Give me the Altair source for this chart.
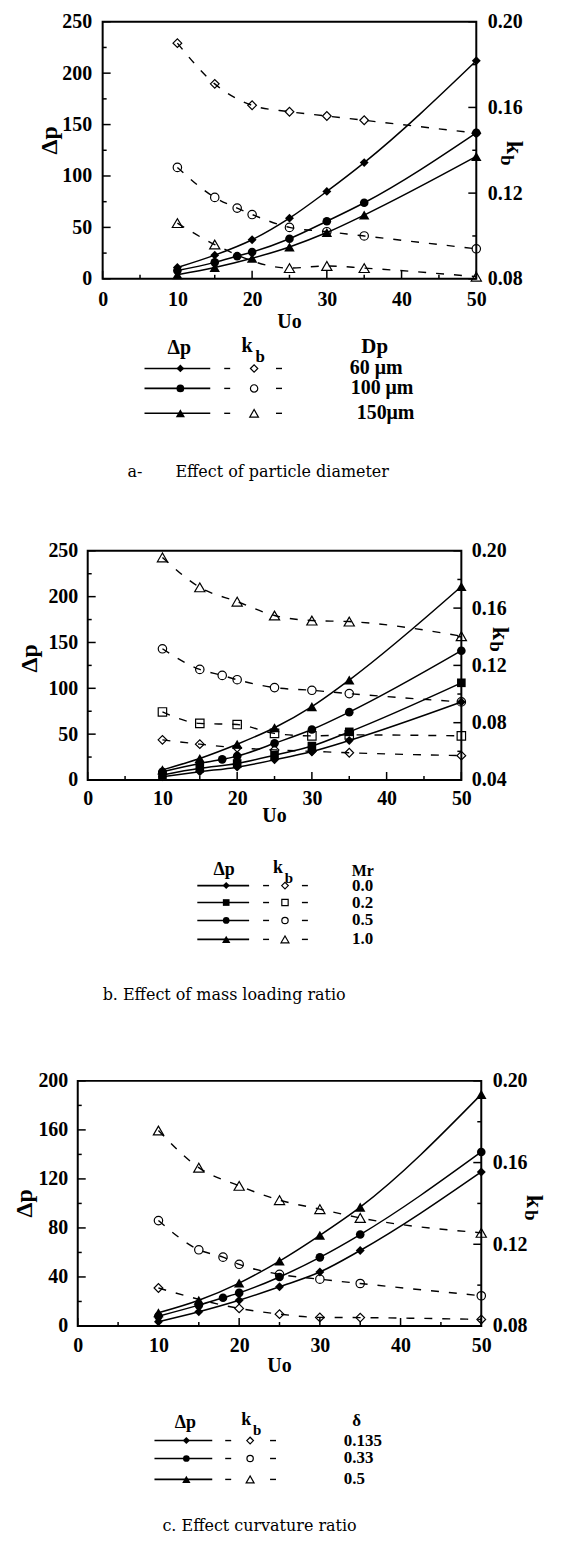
import altair as alt
import pandas as pd

# ---------------- data ----------------
U = [10, 15, 20, 25, 30, 35, 50]
U18 = [10, 15, 18, 20, 25, 30, 35, 50]

# (a) effect of particle diameter
A_NAMES = ["60 μm", "100 μm", "150μm"]
A_DP_U = [U, U18, U]
A_DP = [
    [11, 23, 38, 59, 85, 113, 212],
    [8, 16, 22, 26, 39, 56, 74, 142],
    [4, 11, 20, 31, 45, 62, 119],
]
A_KB_U = [U, U18, [10, 15, 25, 30, 35, 50]]
A_KB = [
    [0.190, 0.171, 0.161, 0.158, 0.156, 0.154, 0.148],
    [0.132, 0.118, 0.113, 0.110, 0.104, 0.102, 0.100, 0.094],
    [0.106, 0.096, 0.085, 0.086, 0.085, 0.081],
]

# (b) effect of mass loading ratio
B_NAMES = ["0.0", "0.2", "0.5", "1.0"]
B_DP_U = [U, U, U18, U]
B_DP = [
    [3.6, 9, 14, 22, 31, 43, 85],
    [5.5, 12.7, 18, 27, 37, 52.5, 106],
    [9, 18, 22.5, 26, 40, 55, 74, 141],
    [11, 23.5, 39, 57, 80, 109, 211],
]
B_KB_U = [U, U, U18, U]
B_KB = [
    [0.068, 0.065, 0.0625, 0.061, 0.060, 0.059, 0.057],
    [0.0875, 0.0795, 0.0787, 0.0725, 0.0708, 0.0715, 0.0708],
    [0.1316, 0.1172, 0.1130, 0.1100, 0.1045, 0.1026, 0.1003, 0.0945],
    [0.1954, 0.1745, 0.1645, 0.1548, 0.1513, 0.1506, 0.1404],
]

# (c) effect of curvature ratio
C_NAMES = ["0.135", "0.33", "0.5"]
C_DP_U = [U, U18, U]
C_DP = [
    [3.5, 11.6, 21, 32, 44, 61.6, 125.7],
    [8, 17, 23, 27, 40, 56, 74.6, 142],
    [10.8, 21, 35, 53, 74, 97, 189],
]
C_KB_U = [[10, 20, 25, 30, 35, 50], U18, U]
C_KB = [
    [0.0986, 0.0886, 0.0858, 0.0842, 0.0841, 0.0832],
    [0.1316, 0.1173, 0.1137, 0.1102, 0.1053, 0.1029, 0.1008, 0.0948],
    [0.1757, 0.1575, 0.1486, 0.1416, 0.1372, 0.1329, 0.1256],
]

X_MAJOR = [0, 10, 20, 30, 40, 50]
X_MINOR = [5, 15, 25, 35, 45]

SERIF = "Liberation Serif"
CAPF = "DejaVu Serif"

ONE = pd.DataFrame({"a": [0]})

SHAPE_SIZE = {"diamond": 80, "circle": 75, "triangle-up": 110, "square": 75}


def frame(us, vs):
    return pd.DataFrame({"U": us, "v": vs})


def txt(s, x, y, size, font=SERIF, weight="bold", align="center", angle=0):
    return alt.Chart(ONE).mark_text(
        text=s, font=font, fontSize=size, fontWeight=weight, align=align,
        baseline="middle", angle=angle, color="black"
    ).encode(x=alt.value(x), y=alt.value(y))


def hline(x1, x2, y, w=1.5):
    return alt.Chart(ONE).mark_rule(color="black", strokeWidth=w).encode(
        x=alt.value(x1), x2=alt.value(x2), y=alt.value(y))


def sym(shape, x, y, filled, size):
    return alt.Chart(ONE).mark_point(
        shape=shape, filled=filled, color="black", size=size, opacity=1,
        strokeWidth=1.2
    ).encode(x=alt.value(x), y=alt.value(y))


def panel(p):
    W, H = p["W"], p["H"]
    axis_common = dict(
        labelFont=SERIF, labelFontWeight="bold", labelFontSize=20,
        labelColor="black", ticks=False, tickSize=0, domain=False,
        grid=False, title=None, labelFlush=False, labelOverlap=False,
        labelBound=False,
    )
    X = alt.X("U:Q", scale=alt.Scale(domain=[0, 50], nice=False, zero=False),
              axis=alt.Axis(values=X_MAJOR, labelPadding=p["xpad"], format="d",
                            **axis_common))
    YL = alt.Y("v:Q", scale=alt.Scale(domain=p["ldom"], nice=False, zero=False),
               axis=alt.Axis(values=p["lmaj"], labelPadding=p["lpad"], format="d",
                             orient="left", **axis_common))
    YR = alt.Y("v:Q", scale=alt.Scale(domain=p["rdom"], nice=False, zero=False),
               axis=alt.Axis(values=p["rmaj"], labelPadding=p["rpad"], format=".2f",
                             orient="right", **axis_common))

    dp_layers = []
    kb_layers = []
    for shape, us, vs, ku, kv in zip(p["shapes"], p["dp_u"], p["dp"], p["kb_u"], p["kb"]):
        d = frame(us, vs)
        k = frame(ku, kv)
        sz = SHAPE_SIZE[shape]
        dp_layers.append(alt.Chart(d).mark_line(
            color="black", strokeWidth=1.5, interpolate="monotone").encode(x=X, y=YL))
        dp_layers.append(alt.Chart(d).mark_point(
            shape=shape, filled=True, color="black", size=sz, opacity=1).encode(x=X, y=YL))
        kb_layers.append(alt.Chart(k).mark_line(
            color="black", strokeWidth=1.4, strokeDash=[8, 10],
            interpolate="monotone").encode(x=X, y=YR))
        kb_layers.append(alt.Chart(k).mark_point(
            shape=shape, filled=False, color="black", size=sz * 0.95, opacity=1,
            strokeWidth=1.2).encode(x=X, y=YR))

    # inward ticks
    for vals, ln in ((X_MAJOR, 8), (X_MINOR, 4)):
        dp_layers.append(alt.Chart(pd.DataFrame({"U": vals})).mark_rule(
            color="black", strokeWidth=1.5).encode(
            x=X, y=alt.value(H), y2=alt.value(H - ln)))
    for vals, ln in ((p["lmaj"], 8), (p["lmin"], 4)):
        dp_layers.append(alt.Chart(pd.DataFrame({"v": vals})).mark_rule(
            color="black", strokeWidth=1.5).encode(
            y=YL, x=alt.value(0), x2=alt.value(ln)))
    for vals, ln in ((p["rmaj"], 8), (p["rmin"], 4)):
        kb_layers.append(alt.Chart(pd.DataFrame({"v": vals})).mark_rule(
            color="black", strokeWidth=1.5).encode(
            y=YR, x=alt.value(W), x2=alt.value(W - ln)))

    deco = []
    cx0, cx1, cy0, cy1 = p["cell"]
    deco.append(alt.Chart(ONE).mark_rect(opacity=0).encode(
        x=alt.value(cx0), x2=alt.value(cx1), y=alt.value(cy0), y2=alt.value(cy1)))
    # axis titles
    deco.append(txt("Uo", p["uo"][0], p["uo"][1], 20))
    deco.append(txt("Δp", p["dpt"][0], p["dpt"][1], 24, angle=270))
    deco.append(txt("k", p["kt"][0], p["kt"][1], 24, angle=90))
    deco.append(txt("b", p["bt"][0], p["bt"][1], 19, angle=90))

    # legend
    L = p["leg"]
    deco.append(txt("Δp", L["dph"][0], L["dph"][1], L["hfs"]))
    deco.append(txt("k", L["kh"][0], L["kh"][1], L["hfs"]))
    deco.append(txt("b", L["bh"][0], L["bh"][1], L["hfs"] - 3))
    deco.append(txt(p["ltitle"], L["th"][0], L["th"][1], L["tfs"]))
    for i, (shape, name) in enumerate(zip(p["shapes"], p["names"])):
        y = L["rows"][i]
        deco.append(hline(L["line"][0], L["line"][1], y, w=1.6))
        deco.append(sym(shape, L["m1"], y, True, L["ms"][shape]))
        deco.append(hline(L["d1"][0], L["d1"][1], y, w=1.4))
        deco.append(sym(shape, L["m2"], y, False, L["ms"][shape] * 0.9))
        deco.append(hline(L["d2"][0], L["d2"][1], y, w=1.4))
        deco.append(txt(name, L["lx"][i], y, L["lfs"], align=L["lalign"]))

    # caption
    for s, x, y in p["caption"]:
        deco.append(txt(s, x, y, 16, font=CAPF, weight="normal", align="left"))

    dp = alt.layer(*dp_layers)
    kb = alt.layer(*kb_layers)
    main = alt.layer(dp, kb, *deco).resolve_scale(y="independent").properties(
        width=W, height=H)

    # invisible spacer placing the panel horizontally
    spacer = alt.Chart(ONE).mark_rect(opacity=0).encode(
        x=alt.value(0), x2=alt.value(1), y=alt.value(0), y2=alt.value(1)
    ).properties(width=1, height=1, view=alt.ViewBackground(stroke="transparent"))
    return alt.hconcat(spacer, main, spacing=0, bounds="full")


MS_BIG = {"diamond": 60, "circle": 60, "triangle-up": 85, "square": 55}
MS_SMALL = {"diamond": 50, "circle": 45, "triangle-up": 70, "square": 45}

PA = dict(
    W=375, H=258, names=A_NAMES, shapes=["diamond", "circle", "triangle-up"],
    dp_u=A_DP_U, dp=A_DP, kb_u=A_KB_U, kb=A_KB,
    ldom=[0, 250], lmaj=[0, 50, 100, 150, 200, 250], lmin=[25, 75, 125, 175, 225],
    rdom=[0.08, 0.20], rmaj=[0.08, 0.12, 0.16, 0.20], rmin=[0.10, 0.14, 0.18],
    xpad=11, lpad=11, rpad=11,
    cell=(-91, 453, -10, 472),
    uo=(187.5, 301), dpt=(-53, 119), kt=(413, 126), bt=(406, 139),
    ltitle="Dp",
    leg=dict(dph=(77, 327), kh=(145, 325), bh=(158, 336), th=(273, 326),
             hfs=20, tfs=21, rows=[348, 368, 393], line=(42, 108), m1=78,
             d1=(122, 128), m2=152, d2=(174, 180), lx=[248, 249, 255],
             lfs=20, lalign="left", ms=MS_BIG),
    caption=[("a-", 25, 452), ("Effect of particle diameter", 73, 452)],
)

PB = dict(
    W=375, H=230, names=B_NAMES, shapes=["diamond", "square", "circle", "triangle-up"],
    dp_u=B_DP_U, dp=B_DP, kb_u=B_KB_U, kb=B_KB,
    ldom=[0, 250], lmaj=[0, 50, 100, 150, 200, 250], lmin=[25, 75, 125, 175, 225],
    rdom=[0.04, 0.20], rmaj=[0.04, 0.08, 0.12, 0.16, 0.20],
    rmin=[0.06, 0.10, 0.14, 0.18],
    xpad=9, lpad=10, rpad=10,
    cell=(-76, 468, -57, 493),
    uo=(187.5, 266), dpt=(-58, 108), kt=(414, 83), bt=(410, 96),
    ltitle="Mr",
    leg=dict(dph=(137, 320), kh=(191, 318), bh=(202, 328), th=(276, 321),
             hfs=18, tfs=16, rows=[336, 353, 371, 390], line=(110, 162), m1=139,
             d1=(176, 182), m2=198, d2=(215, 221), lx=[276, 276, 276, 276],
             lfs=17, lalign="center", ms=MS_SMALL),
    caption=[("b. Effect of mass loading ratio", 15, 446)],
)

PC = dict(
    W=405, H=246, names=C_NAMES, shapes=["diamond", "circle", "triangle-up"],
    dp_u=C_DP_U, dp=C_DP, kb_u=C_KB_U, kb=C_KB,
    ldom=[0, 200], lmaj=[0, 40, 80, 120, 160, 200], lmin=[20, 60, 100, 140, 180],
    rdom=[0.08, 0.20], rmaj=[0.08, 0.12, 0.16, 0.20], rmin=[0.10, 0.14, 0.18],
    xpad=10, lpad=10, rpad=11,
    cell=(-66, 478, -37, 455),
    uo=(202.5, 286), dpt=(-53, 123), kt=(458, 121), bt=(455, 135),
    ltitle="δ",
    leg=dict(dph=(108, 343), kh=(169, 340), bh=(180, 350), th=(280, 341),
             hfs=18, tfs=17, rows=[361, 379, 400], line=(77, 135), m1=109,
             d1=(148, 154), m2=173, d2=(193, 199), lx=[267, 267, 267],
             lfs=17, lalign="left", ms=MS_SMALL),
    caption=[("c. Effect curvature ratio", 85, 447)],
)

chart = alt.vconcat(panel(PA), panel(PB), panel(PC), spacing=0,
                    bounds="full").properties(
    padding=0
).configure_view(stroke="black", strokeWidth=2)

chart.save("out.html", embed_options={"renderer": "svg", "actions": False})
